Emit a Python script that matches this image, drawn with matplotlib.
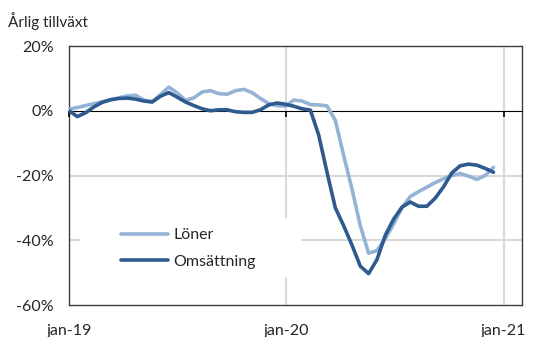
import numpy as np
import pandas as pd
import matplotlib
matplotlib.use("Agg")
import matplotlib.pyplot as plt
from matplotlib.patches import Rectangle

plt.rcParams['font.family'] = ['Lato', 'DejaVu Sans']

# Biweekly observations, January 2019 - December 2020
dates = pd.date_range("2019-01-01", periods=52, freq="14D")

# Annual growth in percent
loner = [0.5, 1.0, 1.6, 2.2, 2.8, 3.4, 4.0, 4.6, 4.8, 3.3,
         2.8, 5.0, 7.3, 5.5, 3.2, 4.0, 5.8, 6.2, 5.3, 5.1,
         6.2, 6.6, 5.6, 3.8, 2.2, 1.6, 1.4, 3.3, 3.0, 1.9,
         1.8, 1.5, -3.0, -13.8, -24.2, -35.5, -44.0, -43.2, -39.5, -35.0,
         -30.0, -26.5, -25.0, -23.6, -22.2, -21.0, -20.0, -19.4, -20.2, -21.2,
         -20.0, -17.5]

omsattning = [0.0, -1.8, -0.6, 1.2, 2.6, 3.4, 3.8, 3.9, 3.6, 3.0,
              2.7, 4.5, 5.6, 4.2, 2.7, 1.6, 0.6, 0.0, 0.3, 0.3,
              -0.3, -0.5, -0.5, 0.3, 1.8, 2.4, 2.0, 1.4, 0.6, 0.2,
              -7.5, -19.0, -30.0, -35.5, -41.5, -48.0, -50.3, -46.0, -38.5, -33.5,
              -29.8, -28.2, -29.5, -29.5, -27.0, -23.5, -19.2, -17.0, -16.5, -16.8,
              -17.8, -19.0]

year_ticks = pd.to_datetime(["2019-01-01", "2020-01-01", "2021-01-01"])
year_labels = ["jan-19", "jan-20", "jan-21"]
y_ticks = [20, 0, -20, -40, -60]
y_labels = ["20%", "0%", "-20%", "-40%", "-60%"]

W, H = 536, 337
fig = plt.figure(figsize=(W / 100, H / 100), dpi=100)
ax_l, ax_r, ax_t, ax_b = 69, 522, 46, 305
ax = fig.add_axes([ax_l / W, 1 - ax_b / H, (ax_r - ax_l) / W, (ax_b - ax_t) / H])

light = "#95B3D7"
dark = "#2F5A8E"
grid = "#D9D9D9"
frame = "#404040"
text_col = "#262626"

ax.set_xlim(pd.Timestamp("2019-01-01"), pd.Timestamp("2021-02-01"))
ax.set_ylim(-60, 20)

# light gridlines
for yv in (-20, -40):
    ax.axhline(yv, color=grid, lw=1.5, zorder=0.5)
for xv in year_ticks[1:]:
    ax.axvline(xv, color=grid, lw=1.5, zorder=0.5)

# legend background hides the gridlines behind it
ax.add_patch(Rectangle((80, H - 277), 221, 59, transform=None,
                       facecolor="white", edgecolor="none", zorder=1))

# zero line with downward tick marks
zero = ax.secondary_xaxis((0 - (-60)) / 80)
zero.set_zorder(3)
zero.xaxis.set_ticks_position("bottom")
zero.set_xticks(year_ticks)
zero.set_xticklabels([])
zero.tick_params(direction="out", length=4, width=1.2, color="black")
zero.spines["bottom"].set_color("black")
zero.spines["bottom"].set_linewidth(1)

ax.plot(dates, loner, color=light, lw=2.6, solid_capstyle="round",
        solid_joinstyle="round", label="Löner", zorder=4)
ax.plot(dates, omsattning, color=dark, lw=2.6, solid_capstyle="round",
        solid_joinstyle="round", label="Omsättning", zorder=5)

ax.set_xticks(year_ticks)
ax.set_xticklabels(year_labels)
ax.set_yticks(y_ticks)
ax.set_yticklabels(y_labels)
ax.tick_params(axis="both", length=0, labelsize=11.5, colors=text_col)
ax.tick_params(axis="y", pad=11)
ax.tick_params(axis="x", pad=14)

for s in ax.spines.values():
    s.set_color(frame)
    s.set_linewidth(1)

leg = ax.legend(loc="center left",
                bbox_to_anchor=((121 - ax_l) / (ax_r - ax_l), (ax_b - 248.5) / (ax_b - ax_t)),
                frameon=False, borderpad=0, borderaxespad=0,
                handlelength=2.95, handletextpad=0.32,
                labelspacing=0.8, fontsize=11.5)
for t in leg.get_texts():
    t.set_color(text_col)

fig.text(8 / W, 1 - 21 / H, "Årlig tillväxt", fontsize=11, color=text_col,
         ha="left", va="center")

fig.savefig("out.png", dpi=100)
